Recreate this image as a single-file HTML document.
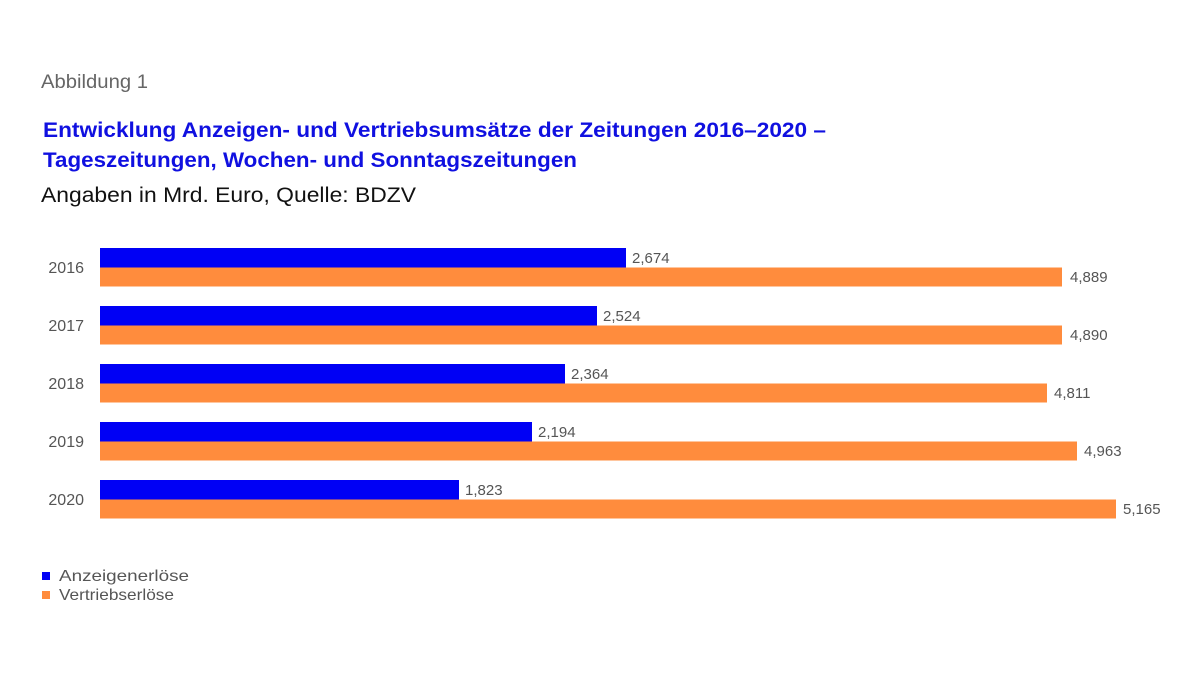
<!DOCTYPE html>
<html><head><meta charset="utf-8"><style>
body{margin:0;background:#fff;}
svg{display:block;font-family:"Liberation Sans",sans-serif;}
</style></head><body>
<svg width="1200" height="675" xmlns="http://www.w3.org/2000/svg">
<rect width="1200" height="675" fill="#fff"/>
<text x="41" y="88" font-size="19" fill="#666" textLength="107" lengthAdjust="spacingAndGlyphs">Abbildung 1</text>
<text x="43" y="137" font-size="21" font-weight="bold" fill="#1010e0" textLength="783" lengthAdjust="spacingAndGlyphs">Entwicklung Anzeigen- und Vertriebsumsätze der Zeitungen 2016–2020 –</text>
<text x="43" y="167" font-size="21" font-weight="bold" fill="#1010e0" textLength="534" lengthAdjust="spacingAndGlyphs">Tageszeitungen, Wochen- und Sonntagszeitungen</text>
<text x="41" y="202" font-size="21" fill="#111" textLength="375" lengthAdjust="spacingAndGlyphs">Angaben in Mrd. Euro, Quelle: BDZV</text>
<g font-size="15" fill="#555">
<g font-size="16">
<text x="84" y="273" text-anchor="end">2016</text>
<text x="84" y="331" text-anchor="end">2017</text>
<text x="84" y="389" text-anchor="end">2018</text>
<text x="84" y="447" text-anchor="end">2019</text>
<text x="84" y="505" text-anchor="end">2020</text>
</g>
<rect x="100" y="248" width="526" height="19.5" fill="#0000f5"/>
<rect x="100" y="267.5" width="962" height="19" fill="#ff8c3d"/>
<text x="632" y="263">2,674</text>
<text x="1070" y="282">4,889</text>
<rect x="100" y="306" width="497" height="19.5" fill="#0000f5"/>
<rect x="100" y="325.5" width="962" height="19" fill="#ff8c3d"/>
<text x="603" y="321">2,524</text>
<text x="1070" y="340">4,890</text>
<rect x="100" y="364" width="465" height="19.5" fill="#0000f5"/>
<rect x="100" y="383.5" width="947" height="19" fill="#ff8c3d"/>
<text x="571" y="379">2,364</text>
<text x="1054" y="398">4,811</text>
<rect x="100" y="422" width="432" height="19.5" fill="#0000f5"/>
<rect x="100" y="441.5" width="977" height="19" fill="#ff8c3d"/>
<text x="538" y="437">2,194</text>
<text x="1084" y="456">4,963</text>
<rect x="100" y="480" width="359" height="19.5" fill="#0000f5"/>
<rect x="100" y="499.5" width="1016" height="19" fill="#ff8c3d"/>
<text x="465" y="495">1,823</text>
<text x="1123" y="514">5,165</text>
<rect x="42" y="572" width="8" height="8" fill="#0000f5"/>
<text x="59" y="581" font-size="16" textLength="130" lengthAdjust="spacingAndGlyphs">Anzeigenerlöse</text>
<rect x="42" y="591" width="8" height="8" fill="#ff8c3d"/>
<text x="59" y="600" font-size="16" textLength="115" lengthAdjust="spacingAndGlyphs">Vertriebserlöse</text>
</g>
</svg>
</body></html>
